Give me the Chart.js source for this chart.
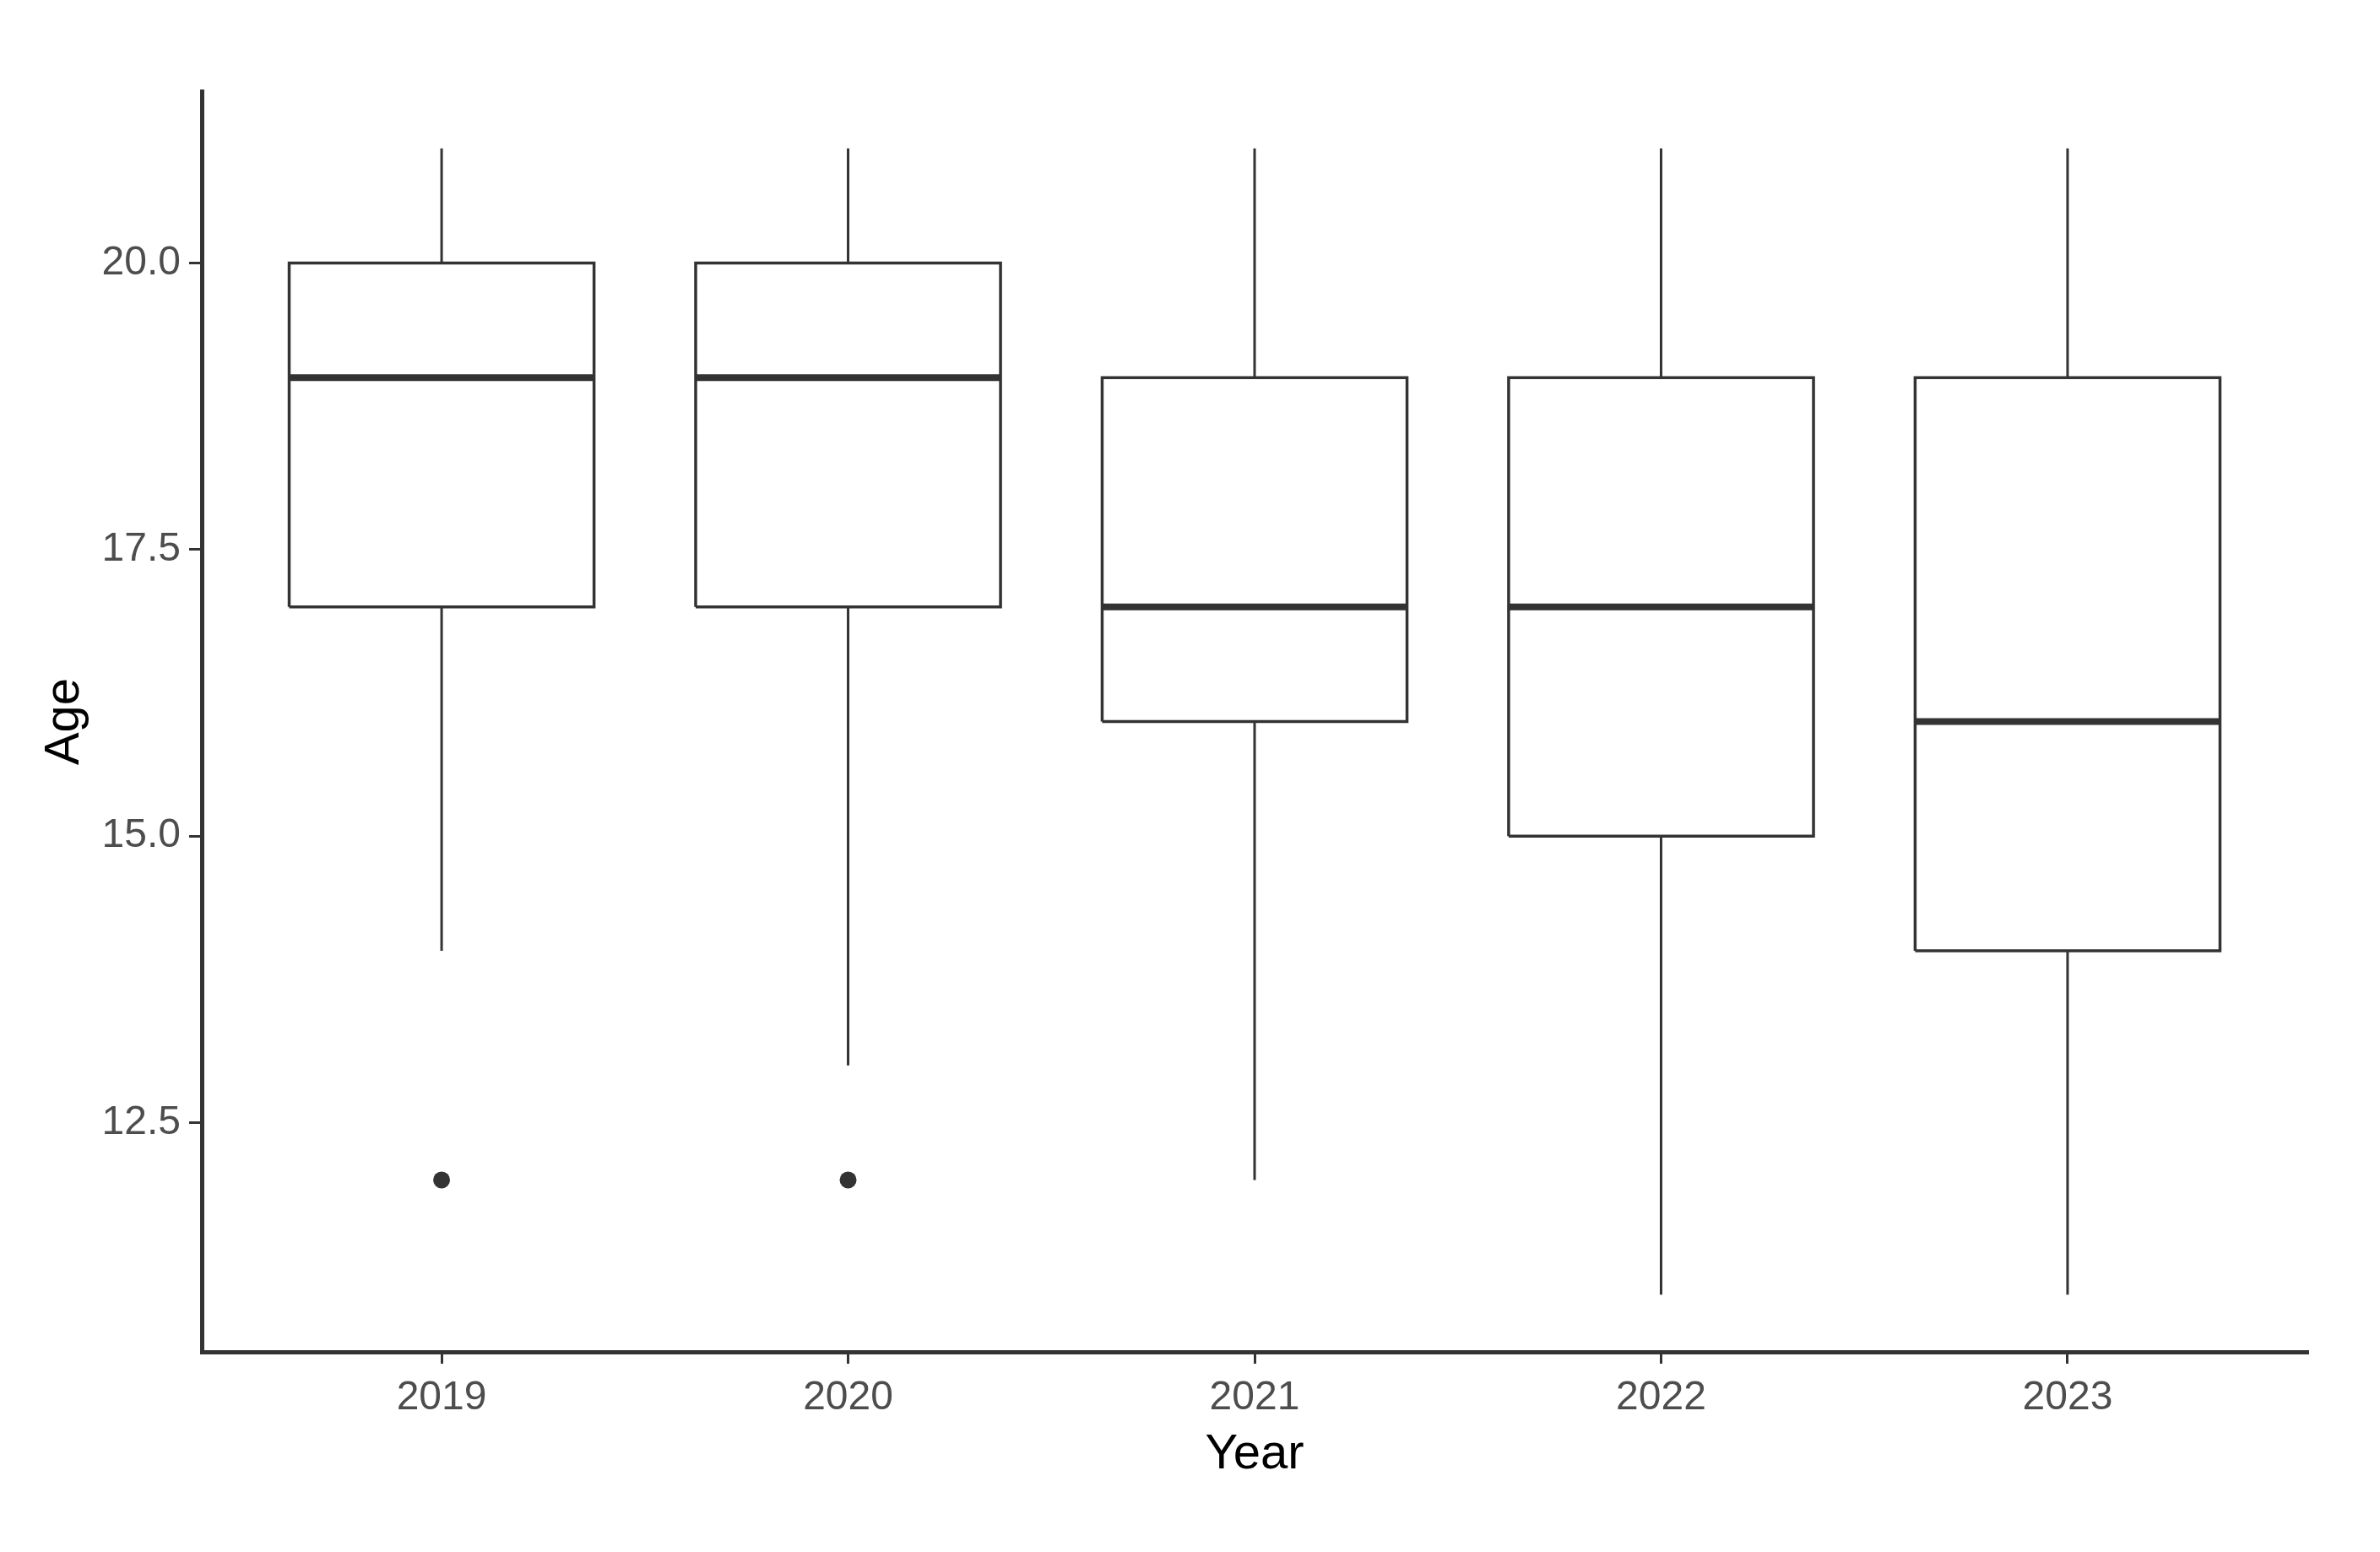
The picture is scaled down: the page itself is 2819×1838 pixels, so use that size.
<!DOCTYPE html>
<html lang="en">
<head>
  <meta charset="UTF-8" />
  <title>Age by Year</title>
  <script src="https://cdn.jsdelivr.net/npm/chart.js"></script>
  <style>
    html, body { margin: 0; padding: 0; background: #fff; }
    #wrap { width: 2819px; height: 1838px; }
  </style>
</head>
<body>
  <div id="wrap"><canvas id="boxChart"></canvas></div>

  <script>
    // values
    const years   = ['2019', '2020', '2021', '2022', '2023'];
    const minVals = [14, 13, 12, 11, 11];
    const q1Vals  = [17, 17, 16, 15, 14];
    const medVals = [19, 19, 17, 17, 16];
    const q3Vals  = [20, 20, 19, 19, 19];
    const maxVals = [21, 21, 21, 21, 21];
    const outlierYear = [1, 2];
    const outlierVals = [12, 12];
    const yTicks = [12.5, 15, 17.5, 20];

    const half = 0.375; // half box width, in category units
    const ink = '#333333';

    const boxPts = [], whiskerPts = [], medianPts = [];
    years.forEach((y, i) => {
      const c = i + 1;
      boxPts.push(
        { x: c - half, y: q1Vals[i] }, { x: c + half, y: q1Vals[i] },
        { x: c + half, y: q3Vals[i] }, { x: c - half, y: q3Vals[i] },
        { x: c - half, y: q1Vals[i] }, { x: c, y: null }
      );
      whiskerPts.push(
        { x: c, y: q3Vals[i] }, { x: c, y: maxVals[i] }, { x: c, y: null },
        { x: c, y: q1Vals[i] }, { x: c, y: minVals[i] }, { x: c, y: null }
      );
      medianPts.push(
        { x: c - half, y: medVals[i] }, { x: c + half, y: medVals[i] }, { x: c, y: null }
      );
    });
    const outlierPts = outlierVals.map((v, i) => ({ x: outlierYear[i], y: v }));

    const lineSet = (data, width) => ({
      type: 'line', data, borderColor: ink, borderWidth: width,
      pointRadius: 0, spanGaps: false, fill: false, tension: 0,
      borderCapStyle: 'butt', borderJoinStyle: 'miter'
    });

    new Chart(document.getElementById('boxChart'), {
      type: 'scatter',
      data: {
        datasets: [
          lineSet(whiskerPts, 3),
          lineSet(boxPts, 3.5),
          lineSet(medianPts, 8),
          {
            type: 'scatter', data: outlierPts, pointRadius: 10,
            pointBackgroundColor: ink, pointBorderColor: ink, pointBorderWidth: 0
          }
        ]
      },
      options: {
        responsive: true,
        maintainAspectRatio: false,
        animation: false,
        layout: { padding: { top: 108, right: 86, left: 42, bottom: 80 } },
        plugins: { legend: { display: false }, tooltip: { enabled: false } },
        scales: {
          x: {
            type: 'linear', min: 0.41, max: 5.59,
            afterBuildTicks: s => { s.ticks = years.map((y, i) => ({ value: i + 1 })); },
            afterFit: s => { s.height = 1838 - 1601 - 80; },
            ticks: {
              callback: v => years[v - 1],
              color: '#4d4d4d', padding: 12,
              font: { family: 'Liberation Sans', size: 48 },
              maxRotation: 0, autoSkip: false
            },
            grid: { display: true, drawOnChartArea: false, drawTicks: true, tickLength: 14, color: ink, lineWidth: 3 },
            border: { display: true, color: ink, width: 5 },
            title: {
              display: true, text: 'Year', color: '#000',
              font: { family: 'Liberation Sans', size: 58 }, padding: { top: 0, bottom: 0 }
            }
          },
          y: {
            type: 'linear', min: 10.5, max: 21.5,
            afterBuildTicks: s => { s.ticks = yTicks.map(v => ({ value: v })); },
            afterFit: s => { s.width = 239 - 42; },
            ticks: {
              callback: v => v.toFixed(1),
              color: '#4d4d4d', padding: 10,
              font: { family: 'Liberation Sans', size: 48 }
            },
            grid: { display: true, drawOnChartArea: false, drawTicks: true, tickLength: 15, color: ink, lineWidth: 3 },
            border: { display: true, color: ink, width: 5 },
            title: {
              display: true, text: 'Age', color: '#000',
              font: { family: 'Liberation Sans', size: 58 }, padding: { top: 0, bottom: 0 }
            }
          }
        }
      }
    });
  </script>
</body>
</html>
